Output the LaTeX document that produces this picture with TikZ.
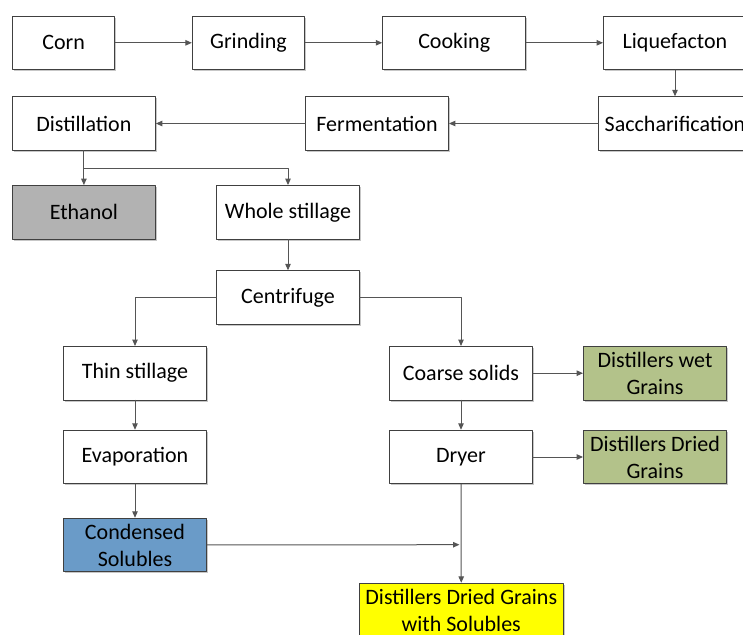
\documentclass[tikz,border=0pt]{standalone}
\usepackage{fontspec}
\setmainfont{Carlito}
\usetikzlibrary{arrows.meta}
\usetikzlibrary{shadows}
\definecolor{boxgray}{RGB}{64,64,64}
\definecolor{linegray}{RGB}{85,85,85}
\definecolor{ethgray}{RGB}{178,178,178}
\definecolor{solblue}{RGB}{106,155,200}
\definecolor{grainolive}{RGB}{179,194,138}
\definecolor{ddgsyellow}{RGB}{255,255,0}
\begin{document}
\begin{tikzpicture}[line cap=round,line join=round,>={Triangle[length=6.5pt,width=5.5pt]},x=1pt,y=-1pt,
    stepbox/.style={draw=boxgray,line width=0.9pt,fill=white,minimum width=143pt,minimum height=53.5pt,inner sep=0pt,align=center,
      font=\fontsize{22}{27}\selectfont,drop shadow={shadow xshift=1.6pt,shadow yshift=-1.6pt,fill=black!22,opacity=1}},
    flow/.style={->,draw=linegray,line width=1pt}]
      \useasboundingbox (0,0) rectangle (743,634);
      \node[stepbox,minimum width=102pt] (corn) at (63.7,42.8) {Corn};
      \node[stepbox,minimum width=112.4pt] (grinding) at (248.5,42.8) {Grinding};
      \node[stepbox] (cooking) at (454.2,42.8) {Cooking};
      \node[stepbox] (liquefacton) at (675,42.8) {Liquefacton};
      \node[stepbox,minimum width=153pt] (saccharification) at (675,123.5) {Saccharification};
      \node[stepbox] (fermentation) at (377,123.5) {Fermentation};
      \node[stepbox] (distillation) at (83.9,123.5) {Distillation};
      \node[stepbox,fill=ethgray] (ethanol) at (83.9,212.3) {Ethanol};
      \node[stepbox] (whole) at (288,212.3) {Whole stillage};
      \node[stepbox] (centrifuge) at (288,297.5) {Centrifuge};
      \node[stepbox] (thin) at (135,373.2) {Thin stillage};
      \node[stepbox] (evaporation) at (135,457) {Evaporation};
      \node[stepbox,fill=solblue] (condensed) at (135,545) {Condensed\\Solubles};
      \node[stepbox] (coarse) at (461,373.2) {Coarse solids};
      \node[stepbox,fill=grainolive] (dwg) at (655,373.2) {Distillers wet\\Grains};
      \node[stepbox] (dryer) at (461,457) {Dryer};
      \node[stepbox,fill=grainolive] (ddg) at (655,457) {Distillers Dried\\Grains};
      \node[stepbox,fill=ddgsyellow,minimum width=204pt] (ddgs) at (461.3,610) {Distillers Dried Grains\\with Solubles};
      \coordinate (split) at (83.9,168.3);
      \coordinate (merge) at (461,544.7);
      \draw[flow] (corn) -- (grinding);
      \draw[flow] (grinding) -- (cooking);
      \draw[flow] (cooking) -- (liquefacton);
      \draw[flow] (liquefacton) -- (saccharification);
      \draw[flow] (saccharification) -- (fermentation);
      \draw[flow] (fermentation) -- (distillation);
      \draw[flow] (distillation) -- (ethanol);
      \draw[flow] (split) -| (whole.north);
      \draw[flow] (whole) -- (centrifuge);
      \draw[flow] (centrifuge.west) -| (thin.north);
      \draw[flow] (centrifuge.east) -| (coarse.north);
      \draw[flow] (thin) -- (evaporation);
      \draw[flow] (evaporation) -- (condensed);
      \draw[flow] (coarse) -- (dwg);
      \draw[flow] (coarse) -- (dryer);
      \draw[flow] (dryer) -- (ddg);
      \draw[flow] (dryer) -- (ddgs);
      \draw[flow,shorten >=1.5pt] (condensed) -- (merge);
    \end{tikzpicture}
\end{document}
